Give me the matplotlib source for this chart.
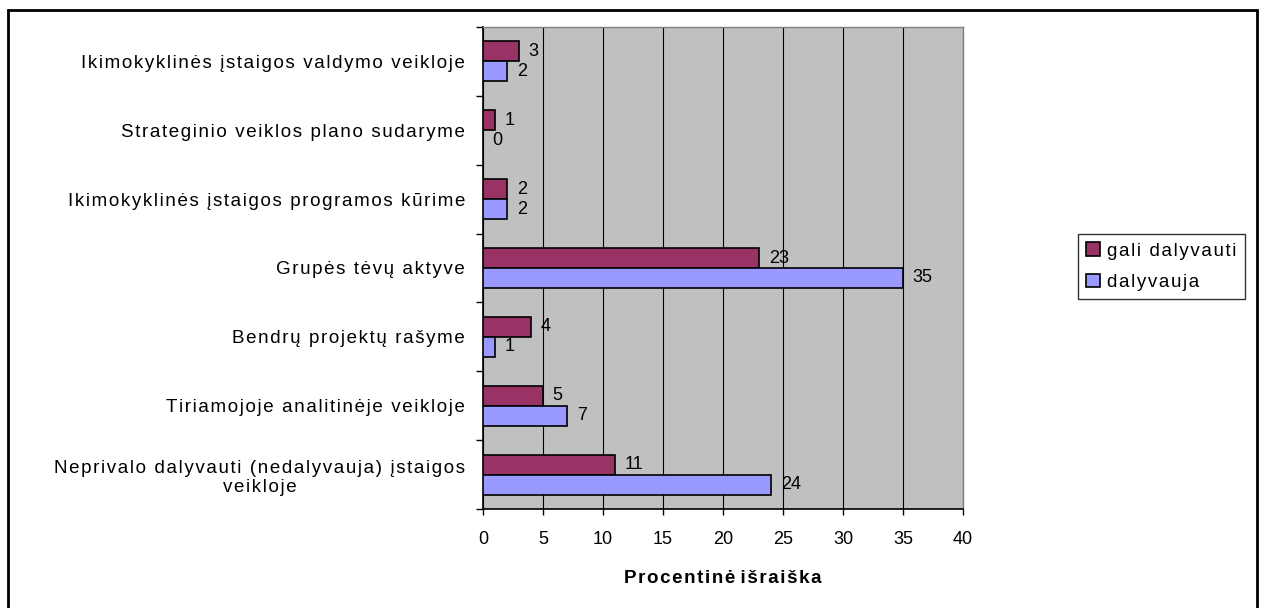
import matplotlib.pyplot as plt
import numpy as np
from matplotlib.patches import Rectangle

# duomenys (is virsaus i apacia)
kategorijos = [
    'Ikimokyklinės įstaigos valdymo veikloje',
    'Strateginio veiklos plano sudaryme',
    'Ikimokyklinės įstaigos programos kūrime',
    'Grupės tėvų aktyve',
    'Bendrų projektų rašyme',
    'Tiriamojoje analitinėje veikloje',
    'Neprivalo dalyvauti (nedalyvauja) įstaigos\nveikloje',
]
gali_dalyvauti = [3, 1, 2, 23, 4, 5, 11]
dalyvauja = [2, 0, 2, 35, 1, 7, 24]
x_ticks = [0, 5, 10, 15, 20, 25, 30, 35, 40]

plt.rcParams['font.family'] = ['Liberation Sans', 'DejaVu Sans']


def retai(s):
    # Excel'is tekstą piešia praretintą - imituojam hair space
    return '\n'.join('\u200a'.join(eil) for eil in s.split('\n'))


fig = plt.figure(figsize=(12.61, 6.08), dpi=100)
ax = fig.add_axes([483/1261, 1-509/608, (963-483)/1261, (509-27)/608])
ax.set_facecolor('#C0C0C0')

y = np.arange(len(kategorijos))
h = 0.29
b1 = ax.barh(y - h/2, gali_dalyvauti, height=h, color='#993366', edgecolor='black',
             linewidth=1.2, label=retai('gali dalyvauti'), zorder=3)
b2 = ax.barh(y + h/2, dalyvauja, height=h, color='#9999FF', edgecolor='black',
             linewidth=1.2, label=retai('dalyvauja'), zorder=3)

for bars in (b1, b2):
    for r in bars:
        v = r.get_width()
        ax.annotate('%d' % v, (v, r.get_y() + r.get_height()/2), xytext=(7, 0),
                    textcoords='offset points', va='center', ha='left', fontsize=13)

ax.set_xlim(0, 40)
ax.set_ylim(len(kategorijos) - 0.5, -0.5)
ax.set_xticks(x_ticks)
ax.tick_params(axis='x', labelsize=13, pad=12, length=4, width=1, direction='out')
ax.xaxis.grid(True, color='black', linewidth=0.8, zorder=1)
ax.set_axisbelow(True)

# y ticks ant kategoriju ribu, uzrasai centre
ax.set_yticks(np.arange(-0.5, len(kategorijos) + 0.5, 1))
ax.set_yticklabels([])
ax.tick_params(axis='y', which='major', length=5, width=1, direction='out')
ax.set_yticks(y, minor=True)
ax.set_yticklabels([retai(k) for k in kategorijos], minor=True, fontsize=13.5,
                   multialignment='center')
ax.tick_params(axis='y', which='minor', length=0, pad=13)

for s in ('top', 'right'):
    ax.spines[s].set_color('#808080')
    ax.spines[s].set_linewidth(1)
ax.spines['left'].set_linewidth(1.2)
ax.spines['bottom'].set_linewidth(1.2)

ax.set_xlabel('P r o c e n t i n ė   i š r a i š k a'.replace(' ', '\u200a').replace('\u200a\u200a\u200a', ' '),
              fontsize=13.5, fontweight='bold', labelpad=16)

leg = fig.legend(handles=[b1, b2], loc='upper left', bbox_to_anchor=(1078/1261, 1-234/608),
                 frameon=True, fancybox=False, edgecolor='black', fontsize=13.5,
                 handlelength=0.7, handleheight=0.7, handletextpad=0.4,
                 borderaxespad=0, borderpad=0.45, labelspacing=0.75)
leg.get_frame().set_linewidth(1)

# ramelis aplink diagrama
fig.patches.append(Rectangle((8/1261, -0.05), (1257-8)/1261, 1.05 - 10/608,
                             transform=fig.transFigure, fill=False,
                             edgecolor='black', linewidth=2))

fig.savefig('out.png', dpi=100)
